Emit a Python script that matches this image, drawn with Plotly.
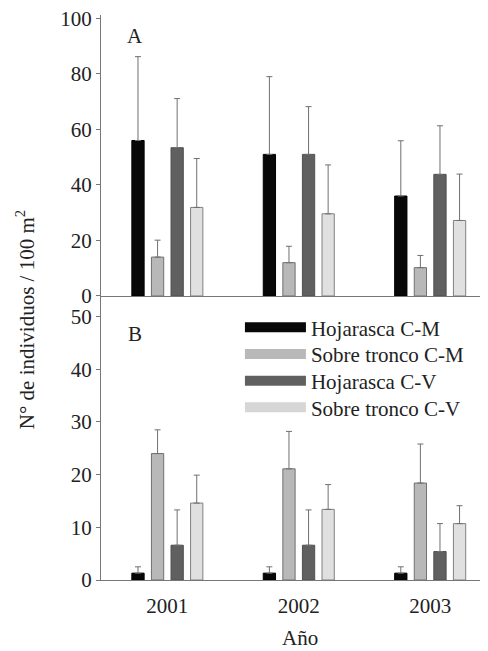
import plotly.graph_objects as go

years = ["2001", "2002", "2003"]
series = ["Hojarasca C-M", "Sobre tronco C-M", "Hojarasca C-V", "Sobre tronco C-V"]
colors = ["#080808", "#b8b8b8", "#606060", "#e0e0e0"]
outline = ["#000000", "#707070", "#505050", "#808080"]

# Panel A: means and upper error (SD) for each series
a_means = [[56.0, 51.0, 36.0], [14.0, 12.0, 10.2], [53.4, 51.0, 43.8], [31.9, 29.6, 27.2]]
a_err = [[30.2, 28.0, 19.9], [6.1, 5.9, 4.4], [17.7, 17.2, 17.5], [17.6, 17.6, 16.7]]
# Panel B
b_means = [[1.3, 1.3, 1.3], [24.0, 21.1, 18.4], [6.6, 6.6, 5.4], [14.6, 13.4, 10.7]]
b_err = [[1.2, 1.2, 1.2], [4.5, 7.1, 7.4], [6.7, 6.7, 5.3], [5.3, 4.7, 3.4]]

FONT = "Liberation Serif"
AX = "#777777"
TF = dict(family=FONT, size=21, color="#222222")

fig = go.Figure()
xs = [0, 1, 2]
legend_ids = ["legend", "legend2", "legend3", "legend4"]
for i, name in enumerate(series):
    for means, errs, xa, ya in [(a_means, a_err, "x2", "y2"), (b_means, b_err, "x", "y")]:
        fig.add_trace(go.Bar(
            x=xs, y=means[i], name=name, xaxis=xa, yaxis=ya,
            marker=dict(color=colors[i], line=dict(color=outline[i], width=1)),
            error_y=dict(type="data", array=errs[i], arrayminus=[0, 0, 0], symmetric=False,
                         color="#707070", thickness=1, width=3),
            showlegend=False, offsetgroup=str(i),
        ))
    # legend entry
    fig.add_trace(go.Scatter(
        x=[None], y=[None], mode="lines", name=name, xaxis="x", yaxis="y",
        line=dict(color=colors[i] if i != 3 else "#d6d6d6", width=10),
        showlegend=True, legend=legend_ids[i],
    ))

xr = [-0.505, 2.44]
common_x = dict(range=xr, showline=True, linecolor=AX, linewidth=1, showgrid=False,
                zeroline=False, ticks="", tickvals=xs)
leg_common = dict(x=0.359, xanchor="left", yanchor="middle", bgcolor="rgba(0,0,0,0)",
                  font=TF, itemwidth=61)
leg_y = [0.4466, 0.3995, 0.3522, 0.3050]
common_y = dict(showline=True, linecolor=AX, linewidth=1, showgrid=False, zeroline=False,
                ticks="outside", ticklen=4, tickcolor=AX, tickfont=TF,
                ticklabeloverflow="allow")
fig.update_layout(
    width=480, height=643,
    margin=dict(l=93, r=0, t=7, b=71),
    plot_bgcolor="white", paper_bgcolor="white",
    barmode="group", bargap=0.404, bargroupgap=0.373,
    font=TF,
    xaxis=dict(**common_x, ticktext=years, tickfont=TF, anchor="y", ticklabelstandoff=7),
    xaxis2=dict(**common_x, showticklabels=False, anchor="y2", matches="x"),
    yaxis=dict(**common_y, domain=[0, 0.5027], range=[0, 53.9],
               tickvals=[0, 10, 20, 30, 40, 50], anchor="x"),
    yaxis2=dict(**common_y, domain=[0.5027, 1], range=[0, 101.2],
                tickvals=[0, 20, 40, 60, 80, 100], anchor="x2"),
    legend=dict(**leg_common, y=leg_y[0]),
    legend2=dict(**leg_common, y=leg_y[1]),
    legend3=dict(**leg_common, y=leg_y[2]),
    legend4=dict(**leg_common, y=leg_y[3]),
    showlegend=True,
)
fig.add_annotation(text="A", xref="paper", yref="paper", x=0.088, y=0.963, showarrow=False,
                   font=TF, xanchor="center", yanchor="middle")
fig.add_annotation(text="B", xref="paper", yref="paper", x=0.088, y=0.436, showarrow=False,
                   font=TF, xanchor="center", yanchor="middle")
fig.add_annotation(text="N° de individuos / 100 m<sup>2</sup>", xref="paper", yref="paper",
                   x=-0.196, y=0.46, textangle=-90, showarrow=False, font=TF,
                   xanchor="center", yanchor="middle")
fig.add_annotation(text="Año", xref="paper", yref="paper", x=0.514, y=-0.102,
                   showarrow=False, font=TF, xanchor="center", yanchor="middle")

fig.write_html("out.html")
